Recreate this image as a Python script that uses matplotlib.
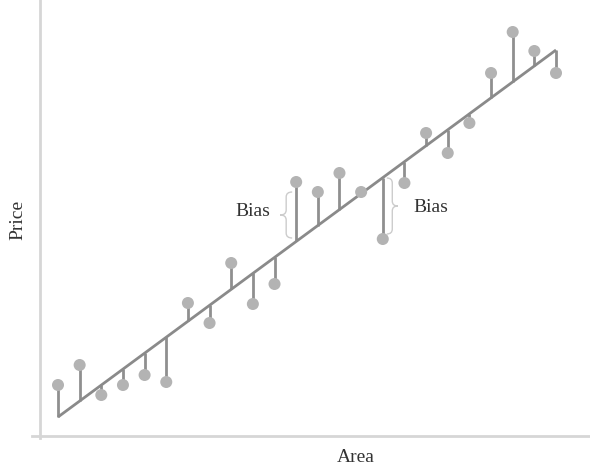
import numpy as np
import matplotlib
matplotlib.use('Agg')
import matplotlib.pyplot as plt
from matplotlib.path import Path
from matplotlib.patches import PathPatch
from matplotlib.lines import Line2D

# data
area = np.arange(1, 25)
price = [51, 71, 41, 51, 61, 54, 133, 113, 173, 132, 152, 254,
         244, 263, 244, 197, 253, 303, 283, 313, 363, 404, 385, 363]
fit_start = 19
fit_end = 386
bias_points = [12, 16]  # area values with a "Bias" brace

plt.rcParams['font.family'] = ['Liberation Serif', 'DejaVu Serif']

fig = plt.figure(figsize=(5.9, 4.69), dpi=100)
ax = fig.add_axes([40 / 590, 33 / 469, 549 / 590, 436 / 469])

x_px = 498 / 23  # pixels per area unit
ax.set_xlim(1 - 18 / x_px, 24 + 33 / x_px)
ax.set_ylim(0, 436)
ax.axis('off')

def fit(x):
    return fit_start + (fit_end - fit_start) * (np.asarray(x) - 1) / 23

line_col = '#8a8a8a'
ax.vlines(area, fit(area), price, color='#8f8f8f', lw=2, zorder=2)
ax.plot([area[0], area[-1]], fit([area[0], area[-1]]), color=line_col, lw=2,
        solid_capstyle='butt', zorder=3)
ax.scatter(area, price, s=75, color='#b3b3b3', edgecolors='none', zorder=4)

# spines drawn by hand (they overlap at the corner)
fig.add_artist(Line2D([40 / 590, 40 / 590], [31 / 469, 1], color='#d6d6d6', lw=2))
fig.add_artist(Line2D([32 / 590, 589 / 590], [33 / 469, 33 / 469], color='#d6d6d6', lw=2))


def brace(x_end, x_tip, y0, y1):
    xm = (x_end + x_tip) / 2
    ym = (y0 + y1) / 2
    d = 5
    verts = [(x_end, y1), (xm, y1), (xm, y1 - d),
             (xm, ym + d),
             (xm, ym), (x_tip, ym),
             (xm, ym), (xm, ym - d),
             (xm, y0 + d),
             (xm, y0), (x_end, y0)]
    codes = [Path.MOVETO, Path.CURVE3, Path.CURVE3,
             Path.LINETO,
             Path.CURVE3, Path.CURVE3,
             Path.CURVE3, Path.CURVE3,
             Path.LINETO,
             Path.CURVE3, Path.CURVE3]
    ax.add_patch(PathPatch(Path(verts, codes), fill=False, ec='#cccccc', lw=1))


# left brace, tip pointing left
b = bias_points[0]
brace(b - 4 / x_px, b - 16 / x_px, 436 - 238, 436 - 192)
ax.text(b - 26 / x_px, 436 - 211, 'Bias', ha='right', va='center',
        fontsize=14, color='#333333')

# right brace, tip pointing right
b = bias_points[1]
brace(b + 4 / x_px, b + 15 / x_px, 436 - 234, 436 - 178)
ax.text(b + 31 / x_px, 436 - 207, 'Bias', ha='left', va='center',
        fontsize=14, color='#333333')

fig.text(356 / 590, 1 - 457 / 469, 'Area', ha='center', va='center',
         fontsize=14, color='#333333')
fig.text(18 / 590, 1 - 220 / 469, 'Price', ha='center', va='center',
         rotation=90, fontsize=14, color='#333333')

fig.savefig('out.png', dpi=100)
